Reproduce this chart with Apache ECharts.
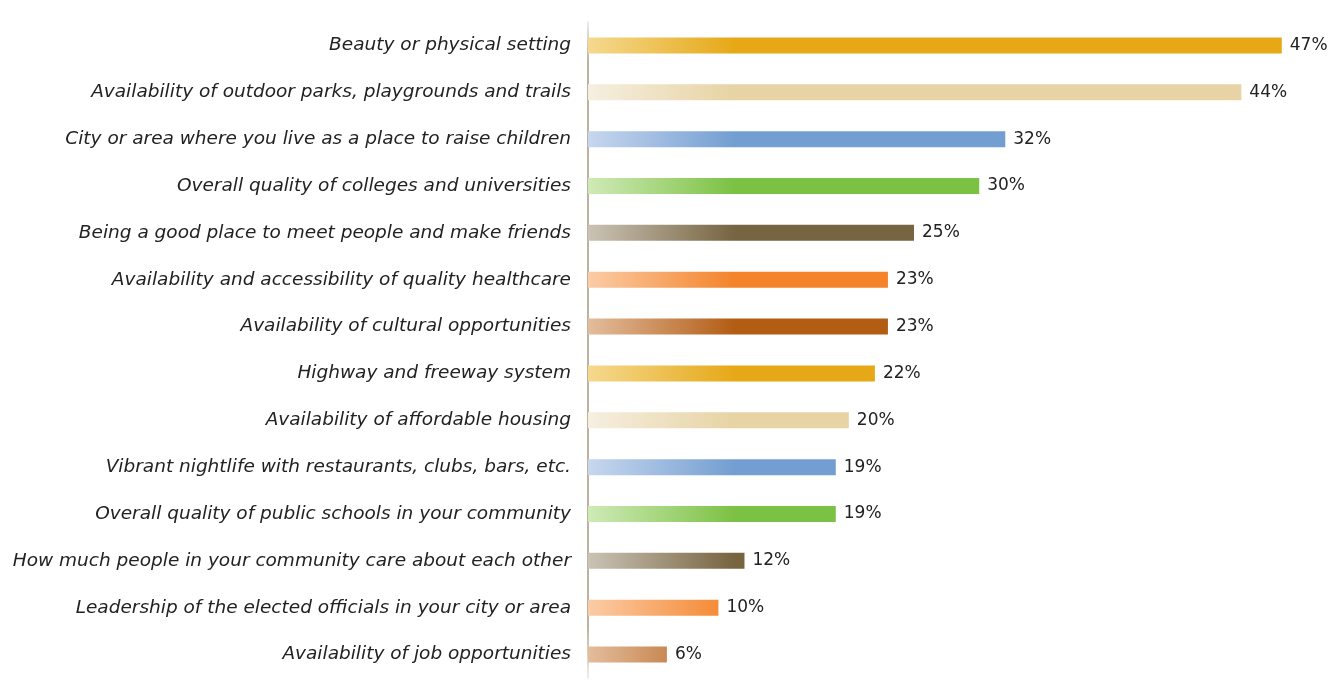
<!DOCTYPE html>
<html>
<head>
<meta charset="utf-8">
<script src="https://cdn.jsdelivr.net/npm/echarts@6/dist/echarts.min.js"></script>
<style>
  html, body { margin: 0; padding: 0; background: #fff; }
  #chart { width: 1331px; height: 680px; }
</style>
</head>
<body>
<div id="chart"></div>
<script>
// categories, top to bottom
const categories = [
  'Beauty or physical setting',
  'Availability of outdoor parks, playgrounds and trails',
  'City or area where you live as a place to raise children',
  'Overall quality of colleges and universities',
  'Being a good place to meet people and make friends',
  'Availability and accessibility of quality healthcare',
  'Availability of cultural opportunities',
  'Highway and freeway system',
  'Availability of affordable housing',
  'Vibrant nightlife with restaurants, clubs, bars, etc.',
  'Overall quality of public schools in your community',
  'How much people in your community care about each other',
  'Leadership of the elected officials in your city or area',
  'Availability of job opportunities'
];
// percentages printed next to the bars
const shares = [47, 44, 32, 30, 25, 23, 23, 22, 20, 19, 19, 12, 10, 6];
// bar lengths as drawn in the picture (top two bars are drawn longer than their labels)
const barLengths = [53.2, 50.1, 32, 30, 25, 23, 23, 22, 20, 19, 19, 12, 10, 6.05];
// gradient colours [light, solid], cycling
const palette = [
  ['#f5d98f', '#e6a817'],
  ['#f6efe0', '#e7d3a4'],
  ['#c7d7ee', '#739ed2'],
  ['#d0eab7', '#7bc143'],
  ['#cac3b5', '#776440'],
  ['#fbcca6', '#f4832a'],
  ['#e3bd9d', '#b35c14']
];

const chart = echarts.init(document.getElementById('chart'));

const gridLeft = 588;
const fadeEnd = 735; // the light-to-solid fade ends at about this x

const data = barLengths.map((v, i) => {
  const c = palette[i % palette.length];
  return {
    value: v,
    itemStyle: {
      color: new echarts.graphic.LinearGradient(gridLeft, 0, fadeEnd, 0, [
        { offset: 0, color: c[0] },
        { offset: 1, color: c[1] }
      ], true)
    }
  };
});

const option = {
  backgroundColor: '#ffffff',
  grid: { left: gridLeft, top: 22, width: 704.2, height: 656 },
  xAxis: {
    type: 'value',
    min: 0,
    max: 54,
    show: false
  },
  yAxis: {
    type: 'category',
    inverse: true,
    data: categories,
    axisTick: { show: false },
    axisLine: {
      show: true,
      lineStyle: {
        width: 1.5,
        color: new echarts.graphic.LinearGradient(0, 8, 0, 680, [
          { offset: 0, color: 'rgba(168,151,124,0)' },
          { offset: 0.08, color: '#a8977c' },
          { offset: 0.92, color: '#a8977c' },
          { offset: 1, color: 'rgba(168,151,124,0.2)' }
        ], true)
      }
    },
    axisLabel: {
      margin: 17,
      fontFamily: 'DejaVu Sans',
      fontStyle: 'italic',
      fontSize: 18.5,
      color: '#222222'
    }
  },
  series: [
    {
      type: 'bar',
      data: data,
      barWidth: 16,
      label: {
        show: true,
        position: 'right',
        distance: 8,
        fontFamily: 'DejaVu Sans',
        fontSize: 17,
        color: '#222222',
        formatter: (p) => shares[p.dataIndex] + '%'
      }
    }
  ]
};

chart.setOption(option);
</script>
</body>
</html>
